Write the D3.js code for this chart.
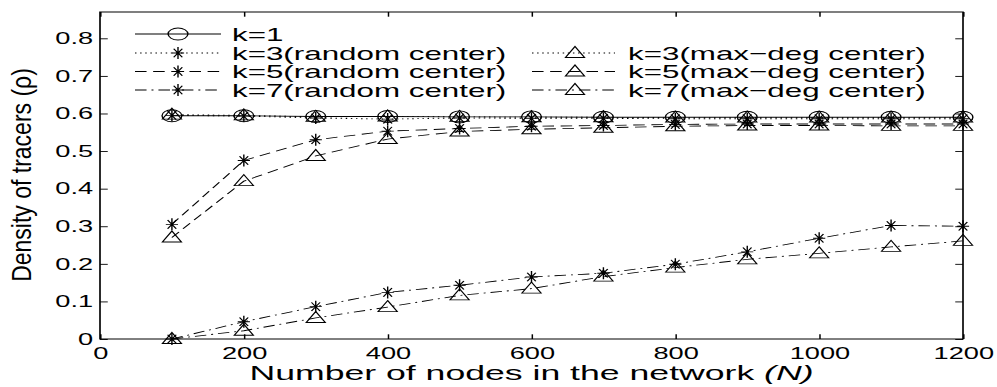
<!DOCTYPE html>
<html lang="en">
<head>
<meta charset="utf-8">
<script src="https://d3js.org/d3.v7.min.js"></script>
<style>
  body { margin: 0; background: #fff; }
  svg text { font-family: "Liberation Sans", Arial, Helvetica, sans-serif; fill: #000; }
  .axis path { display: none; }
  .axis line { stroke: #000; stroke-width: 0.9; }
  .series path.line { fill: none; stroke: #000; stroke-width: 0.85; }
  .mark { fill: none; stroke: #000; stroke-width: 0.85; }
</style>
</head>
<body>
<svg width="997" height="387"></svg>
<script>
// data
var nodes = [100, 200, 300, 400, 500, 600, 700, 800, 900, 1000, 1100, 1200];

var k1       = [0.594, 0.594, 0.592, 0.592, 0.591, 0.591, 0.590, 0.590, 0.590, 0.590, 0.590, 0.590];
var k3Random = [0.595, 0.593, 0.588, 0.585, 0.588, 0.587, 0.587, 0.586, 0.586, 0.586, 0.586, 0.586];
var k5Random = [0.305, 0.475, 0.530, 0.553, 0.560, 0.566, 0.568, 0.571, 0.572, 0.572, 0.572, 0.572];
var k7Random = [0.000, 0.046, 0.086, 0.124, 0.143, 0.165, 0.175, 0.199, 0.232, 0.268, 0.302, 0.300];
var k3MaxDeg = [0.597, 0.595, 0.591, 0.592, 0.591, 0.590, 0.590, 0.589, 0.589, 0.589, 0.589, 0.589];
var k5MaxDeg = [0.270, 0.420, 0.487, 0.532, 0.552, 0.558, 0.562, 0.566, 0.568, 0.568, 0.567, 0.567];
var k7MaxDeg = [0.000, 0.022, 0.056, 0.085, 0.116, 0.134, 0.166, 0.190, 0.212, 0.228, 0.245, 0.261];

var xTicks = [0, 200, 400, 600, 800, 1000, 1200];
var yTicks = [0, 0.1, 0.2, 0.3, 0.4, 0.5, 0.6, 0.7, 0.8];

var seriesNames = ["k=1", "k=3(random center)", "k=5(random center)", "k=7(random center)",
                   "k=3(max\u2212deg center)", "k=5(max\u2212deg center)", "k=7(max\u2212deg center)"];

// the source figure is stretched sideways, so everything is drawn in a squeezed
// frame and scaled back out by SX
var SX = 1.65;

var series = [
  { name: seriesNames[0], values: k1,       dash: null,          mark: "circle",   col: 0, row: 0 },
  { name: seriesNames[1], values: k3Random, dash: "0.9,2.2",     mark: "star",     col: 0, row: 1 },
  { name: seriesNames[2], values: k5Random, dash: "7,4",         mark: "star",     col: 0, row: 2 },
  { name: seriesNames[3], values: k7Random, dash: "7,3,1.2,3",   mark: "star",     col: 0, row: 3 },
  { name: seriesNames[4], values: k3MaxDeg, dash: "0.9,2.2",     mark: "triangle", col: 1, row: 1 },
  { name: seriesNames[5], values: k5MaxDeg, dash: "7,4",         mark: "triangle", col: 1, row: 2 },
  { name: seriesNames[6], values: k7MaxDeg, dash: "7,3,1.2,3",   mark: "triangle", col: 1, row: 3 }
];

var plotL = 100, plotR = 963, plotT = 12, plotB = 339;

var x = d3.scaleLinear().domain([0, 1200]).range([plotL / SX, plotR / SX]);
var y = d3.scaleLinear().domain([0, 0.87]).range([plotB, plotT]);

var svg = d3.select("svg");
var g = svg.append("g").attr("transform", "scale(" + SX + ",1)");

// box
g.append("rect")
  .attr("x", x(0)).attr("y", y(0.87))
  .attr("width", x(1200) - x(0)).attr("height", y(0) - y(0.87))
  .attr("fill", "none").attr("stroke", "#000").attr("stroke-width", 1);

var fmtY = function(d) { return d === 0 ? "0" : d3.format(".1f")(d); };

g.append("g").attr("class", "axis")
  .attr("transform", "translate(0," + plotB + ")")
  .call(d3.axisBottom(x).tickValues(xTicks).tickSizeInner(-4.7).tickSizeOuter(0)
        .tickPadding(8.5).tickFormat(d3.format("d")));

g.append("g").attr("class", "axis")
  .attr("transform", "translate(0," + plotT + ")")
  .call(d3.axisTop(x).tickValues(xTicks).tickSizeInner(-4.7).tickSizeOuter(0).tickFormat(""));

g.append("g").attr("class", "axis")
  .attr("transform", "translate(" + x(0) + ",0)")
  .call(d3.axisLeft(y).tickValues(yTicks).tickSizeInner(-4.7).tickSizeOuter(0)
        .tickPadding(4.2).tickFormat(fmtY));

g.append("g").attr("class", "axis")
  .attr("transform", "translate(" + x(1200) + ",0)")
  .call(d3.axisRight(y).tickValues(yTicks).tickSizeInner(-4.7).tickSizeOuter(0).tickFormat(""));

g.selectAll(".axis text")
  .attr("font-size", "16.5px")
  .attr("font-family", "Liberation Sans, Arial, sans-serif");

// markers
function drawMark(sel, type) {
  if (type === "circle") {
    sel.append("circle").attr("class", "mark").attr("r", 6);
  } else if (type === "star") {
    sel.append("path").attr("class", "mark")
      .attr("d", "M-3.7,0H3.7M0,-6V6M-2.6,-4.3L2.6,4.3M-2.6,4.3L2.6,-4.3");
  } else {
    sel.append("path").attr("class", "mark").attr("d", "M0,-6.5L5.8,4.5L-5.8,4.5Z");
  }
}

var line = d3.line().x(function(d, i) { return x(nodes[i]); }).y(function(d) { return y(d); });

series.forEach(function(s) {
  var sg = g.append("g").attr("class", "series");
  sg.append("path").attr("class", "line")
    .attr("d", line(s.values))
    .attr("stroke-dasharray", s.dash);
  s.values.forEach(function(v, i) {
    var m = sg.append("g").attr("transform", "translate(" + x(nodes[i]) + "," + y(v) + ")");
    drawMark(m, s.mark);
  });
});

// legend
var legCols = [
  { x0: 135, x1: 221, xm: 178, xt: 232 },
  { x0: 532, x1: 615, xm: 575, xt: 628 }
];
var legRows = [34, 53, 71.5, 90];

series.forEach(function(s) {
  var c = legCols[s.col], ry = legRows[s.row];
  var lg = g.append("g").attr("class", "series");
  lg.append("path").attr("class", "line")
    .attr("d", "M" + c.x0 / SX + "," + ry + "H" + c.x1 / SX)
    .attr("stroke-dasharray", s.dash);
  drawMark(lg.append("g").attr("transform", "translate(" + c.xm / SX + "," + ry + ")"), s.mark);
  lg.append("text")
    .attr("x", c.xt / SX).attr("y", ry + 7)
    .attr("font-size", "19px")
    .text(s.name);
});

// x label (a touch wider than the rest in the source)
var xl = g.append("g")
  .attr("transform", "translate(" + (x(0) + x(1200)) / 2 + ",380) scale(1.08,1)")
  .append("text")
  .attr("text-anchor", "middle")
  .attr("font-size", "20px");
xl.append("tspan").text("Number of nodes in the network ");
xl.append("tspan").attr("font-style", "italic").text("(N)");

// y label (narrow look in the source)
svg.append("text")
  .attr("transform", "translate(31,175) rotate(-90) scale(1,1.2)")
  .attr("text-anchor", "middle")
  .attr("font-size", "23px")
  .text("Density of tracers (\u03c1)");
</script>
</body>
</html>
